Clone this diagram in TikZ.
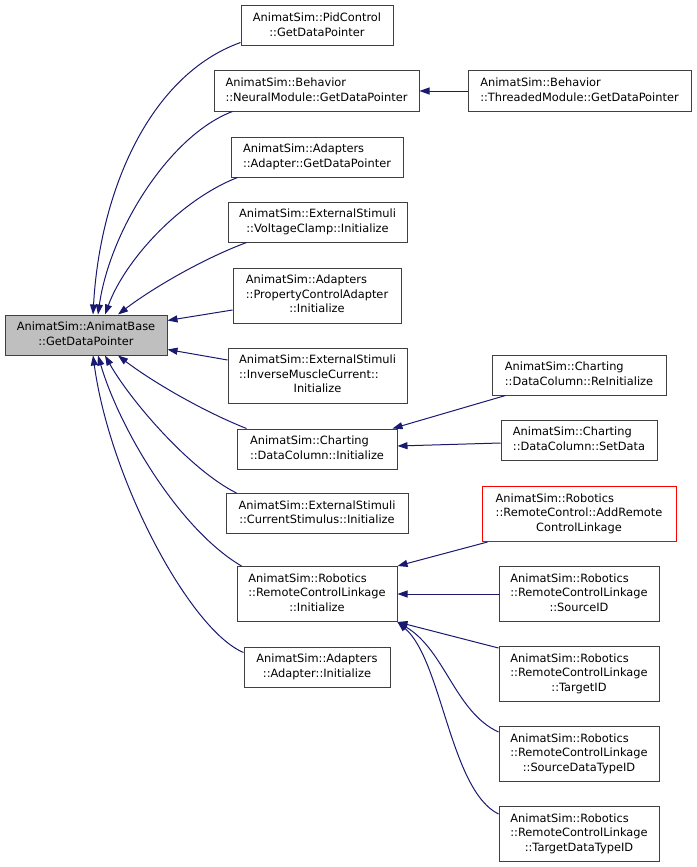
\documentclass[tikz,border=0pt]{standalone}
\usepackage{fontspec}
\setmainfont{DejaVu Sans}
\usetikzlibrary{arrows.meta}

\definecolor{edgeblue}{HTML}{191970}
\definecolor{boxgray}{HTML}{404040}
\definecolor{focusgray}{HTML}{BFBFBF}

% lines left aligned, last line centred (as graphviz does)
\newcommand{\lbl}[2]{\begin{tabular}{@{}l@{}}#1\\\multicolumn{1}{@{}c@{}}{#2}\end{tabular}}

\tikzset{
  fn/.style={draw=boxgray, line width=1pt, inner sep=0pt, rectangle,
    font=\fontsize{11.4}{14.5}\selectfont},
  focusfn/.style={fn, fill=focusgray},
  redfn/.style={fn, draw=red},
  call/.style={draw=edgeblue, line width=1pt, -{Triangle[length=10pt,width=7pt]}}
}

\begin{document}
\begin{tikzpicture}[x=1pt,y=-1pt]
\useasboundingbox (0,0) rectangle (696,867);

% the function itself
\node[focusfn, minimum width=162pt, minimum height=40pt] (base) at (86,335)
  {\lbl{AnimatSim::AnimatBase}{::GetDataPointer}};

% direct callers
\node[fn, minimum width=152pt, minimum height=40pt] (pid) at (317,26)
  {\lbl{AnimatSim::PidControl}{::GetDataPointer}};
\node[fn, minimum width=205pt, minimum height=40pt] (neural) at (316.5,91)
  {\lbl{AnimatSim::Behavior}{::NeuralModule::GetDataPointer}};
\node[fn, minimum width=172pt, minimum height=40pt] (adgdp) at (317,157)
  {\lbl{AnimatSim::Adapters}{::Adapter::GetDataPointer}};
\node[fn, minimum width=179pt, minimum height=40pt] (vclamp) at (317.5,222)
  {\lbl{AnimatSim::ExternalStimuli}{::VoltageClamp::Initialize}};
\node[fn, minimum width=168pt, minimum height=55pt] (pca) at (317,295.5)
  {\lbl{AnimatSim::Adapters\\::PropertyControlAdapter}{::Initialize}};
\node[fn, minimum width=179pt, minimum height=55pt] (imc) at (317.5,375.5)
  {\lbl{AnimatSim::ExternalStimuli\\::InverseMuscleCurrent::}{Initialize}};
\node[fn, minimum width=160pt, minimum height=40pt] (dcinit) at (317,449)
  {\lbl{AnimatSim::Charting}{::DataColumn::Initialize}};
\node[fn, minimum width=182pt, minimum height=40pt] (cstim) at (317,513.5)
  {\lbl{AnimatSim::ExternalStimuli}{::CurrentStimulus::Initialize}};
\node[fn, minimum width=160pt, minimum height=55pt] (rclinit) at (317,594)
  {\lbl{AnimatSim::Robotics\\::RemoteControlLinkage}{::Initialize}};
\node[fn, minimum width=146pt, minimum height=40pt] (adinit) at (317,667)
  {\lbl{AnimatSim::Adapters}{::Adapter::Initialize}};

% second level callers
\node[fn, minimum width=223pt, minimum height=40pt] (threaded) at (579.5,91)
  {\lbl{AnimatSim::Behavior}{::ThreadedModule::GetDataPointer}};
\node[fn, minimum width=174pt, minimum height=40pt] (reinit) at (579,375)
  {\lbl{AnimatSim::Charting}{::DataColumn::ReInitialize}};
\node[fn, minimum width=156pt, minimum height=40pt] (setdata) at (579,440)
  {\lbl{AnimatSim::Charting}{::DataColumn::SetData}};
\node[redfn, minimum width=194pt, minimum height=55pt] (addrc) at (579,514)
  {\lbl{AnimatSim::Robotics\\::RemoteControl::AddRemote}{ControlLinkage}};
\node[fn, minimum width=160pt, minimum height=55pt] (srcid) at (579,594)
  {\lbl{AnimatSim::Robotics\\::RemoteControlLinkage}{::SourceID}};
\node[fn, minimum width=160pt, minimum height=55pt] (tgtid) at (579,674)
  {\lbl{AnimatSim::Robotics\\::RemoteControlLinkage}{::TargetID}};
\node[fn, minimum width=160pt, minimum height=55pt] (srcdt) at (579,754)
  {\lbl{AnimatSim::Robotics\\::RemoteControlLinkage}{::SourceDataTypeID}};
\node[fn, minimum width=160pt, minimum height=55pt] (tgtdt) at (579,834)
  {\lbl{AnimatSim::Robotics\\::RemoteControlLinkage}{::TargetDataTypeID}};

% calls into the base function
\draw[call] ([yshift=4pt]pid.south west) .. controls (150,75) and (100,190) .. ([xshift=7pt]base.north);
\draw[call] ([xshift=19pt]neural.south west) .. controls (170,135) and (110,230) .. ([xshift=12pt]base.north);
\draw[call] ([xshift=7pt]adgdp.south west) .. controls (180,200) and (125,260) .. ([xshift=19pt]base.north);
\draw[call] ([xshift=19pt]vclamp.south west) .. controls (200,260) and (150,290) .. ([xshift=32pt]base.north);
\draw[call] ([yshift=-14.5pt]pca.west) -- ([yshift=-6pt]base.north east);
\draw[call] ([yshift=15.5pt]imc.west) -- ([yshift=6pt]base.south east);
\draw[call] ([xshift=10pt]dcinit.north west) .. controls (200,410) and (150,380) .. ([xshift=32pt]base.south);
\draw[call] ([xshift=11pt]cstim.north west) .. controls (190,470) and (130,400) .. ([xshift=19pt]base.south);
\draw[call] ([xshift=5pt]rclinit.north west) .. controls (180,530) and (120,430) .. ([xshift=12pt]base.south);
\draw[call] ([yshift=-6pt]adinit.north west) .. controls (190,630) and (110,480) .. ([xshift=7pt]base.south);

% second level calls
\draw[call] (threaded.west) -- (neural.east);
\draw[call] ([xshift=14pt]reinit.south west) -- ([xshift=-5pt]dcinit.north east);
\draw[call] ([yshift=-3pt]setdata.west) -- ([yshift=3pt]dcinit.east);
\draw[call] ([xshift=6pt]addrc.south west) -- (rclinit.north east);
\draw[call] (srcid.west) -- (rclinit.east);
\draw[call] ([yshift=-2pt]tgtid.north west) -- (rclinit.south east);
\draw[call] ([yshift=-6pt]srcdt.north west) .. controls (455,712) and (445,650) .. (rclinit.south east);
\draw[call] ([yshift=-8pt]tgtdt.north west) .. controls (450,790) and (442,660) .. (rclinit.south east);

\end{tikzpicture}
\end{document}
